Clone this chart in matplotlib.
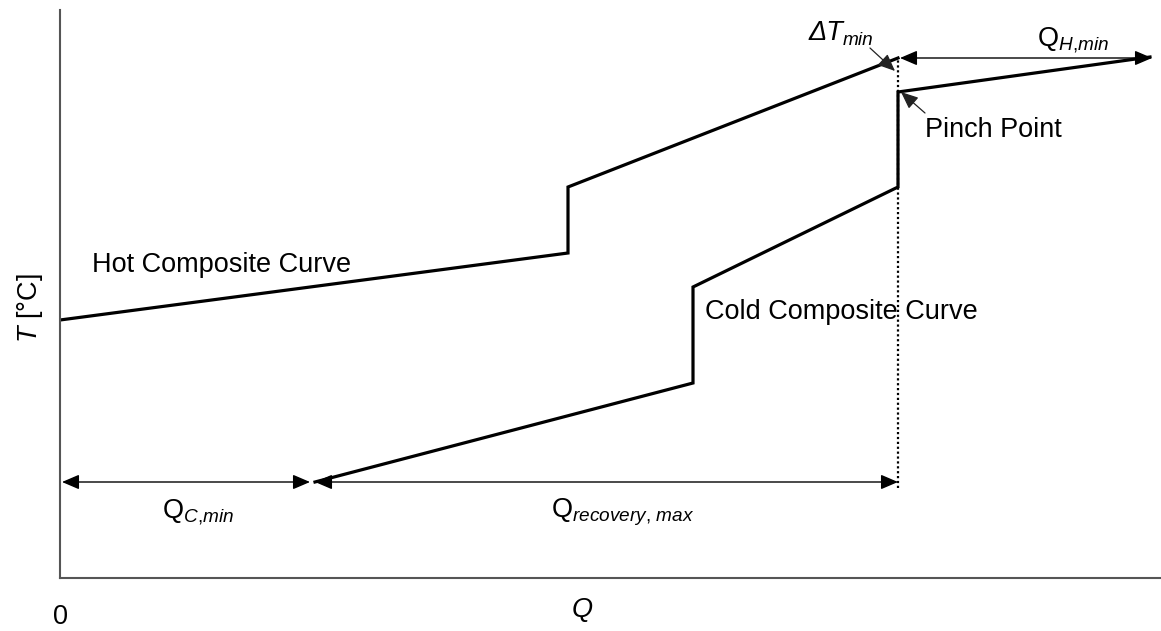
import matplotlib.pyplot as plt

plt.rcParams['font.family'] = ['Liberation Sans', 'DejaVu Sans']
plt.rcParams['mathtext.fontset'] = 'custom'
plt.rcParams['mathtext.rm'] = 'Liberation Sans'
plt.rcParams['mathtext.it'] = 'Liberation Sans:italic'

# composite curves (Q, T) in plot units
hot_q = [0, 508, 508, 838]
hot_t = [258, 325, 391, 520]
cold_q = [255, 633, 633, 838, 838, 1090]
cold_t = [96, 195, 291, 391, 486, 521]

# pinch location and heat targets
pinch_q = 838
q_c_min = [2, 250]
q_recovery = [255, 838]
q_h_min = [840, 1092]
arrow_t = 96
q_h_t = 520

fs = 19.5

fig = plt.figure(figsize=(11.61, 6.31), dpi=100)
ax = fig.add_axes([60/1161, 53/631, 1101/1161, 568/631])
ax.set_xlim(0, 1101)
ax.set_ylim(0, 568)

ax.plot(hot_q, hot_t, color='black', lw=2.3, solid_joinstyle='miter')
ax.plot(cold_q, cold_t, color='black', lw=2.3, solid_joinstyle='miter')

# pinch line
ax.plot([pinch_q, pinch_q], [90, 520], color='black', lw=1.6, linestyle=(0, (1, 1.2)))

def dbl_arrow(x0, x1, y):
    ax.annotate('', xy=(x1, y), xytext=(x0, y),
                arrowprops=dict(arrowstyle='<|-|>,head_length=0.7,head_width=0.3',
                                mutation_scale=15, lw=1.0, color='black',
                                shrinkA=0, shrinkB=0))

dbl_arrow(q_c_min[0], q_c_min[1], arrow_t)
dbl_arrow(q_recovery[0], q_recovery[1], arrow_t)
dbl_arrow(q_h_min[0], q_h_min[1], q_h_t)

def pointer(xy, xytext):
    ax.annotate('', xy=xy, xytext=xytext,
                arrowprops=dict(arrowstyle='-|>,head_length=0.7,head_width=0.3',
                                mutation_scale=15, lw=0.9, color='#222222',
                                shrinkA=0, shrinkB=0))

pointer((835, 507), (810, 530))
pointer((841, 486), (865, 465))

ax.text(32, 313, 'Hot Composite Curve', fontsize=fs, ha='left', va='center')
ax.text(645, 266, 'Cold Composite Curve', fontsize=fs, ha='left', va='center')
ax.text(865, 448, 'Pinch Point', fontsize=fs, ha='left', va='center')
ax.text(1013, 538, r'$\mathrm{Q}_{H{,}min}$', fontsize=fs, ha='center', va='center')
# italic delta with its subscript set as a second, smaller text
ax.text(783, 538, 'ΔT', fontsize=fs, style='italic', ha='right', va='baseline')
ax.text(783, 533, 'min', fontsize=fs * 0.7, style='italic', ha='left', va='baseline')
ax.text(138, 66, r'$\mathrm{Q}_{C{,}min}$', fontsize=fs, ha='center', va='center')
ax.text(563, 66, r'$\mathrm{Q}_{recovery{,}\ max}$', fontsize=fs, ha='center', va='center')

ax.text(522, -32, 'Q', fontsize=fs, style='italic', ha='center', va='center', clip_on=False)
ax.text(0, -39, '0', fontsize=fs, ha='center', va='center', clip_on=False)
ax.text(-30, 270, r'$T$ [°C]', fontsize=fs, rotation=90, ha='center', va='center', clip_on=False)

ax.set_xticks([])
ax.set_yticks([])
for side in ['top', 'right']:
    ax.spines[side].set_visible(False)
for side in ['left', 'bottom']:
    ax.spines[side].set_color('#555555')
    ax.spines[side].set_linewidth(1.5)

fig.savefig('out.png', dpi=100)
